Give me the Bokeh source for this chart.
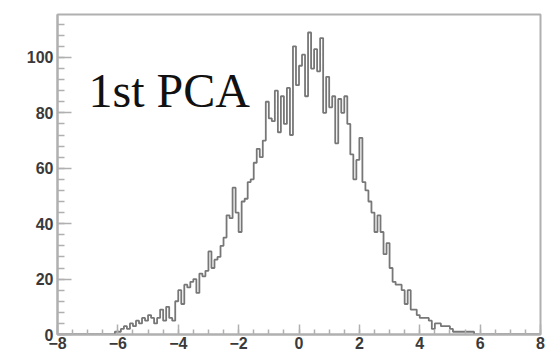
import numpy as np
from bokeh.plotting import figure
from bokeh.models import Range1d, SingleIntervalTicker, Label
from bokeh.embed import file_html
from bokeh.resources import INLINE

# Histogram: bin width 0.1, first non-empty bin starts at -6.1
bin_width = 0.1
first_edge = -6.1
counts = [
    1, 1, 2, 3, 2, 4, 3, 5, 4, 6,
    5, 7, 6, 4, 6, 9, 5, 10, 6, 5,
    12, 16, 11, 18, 17, 19, 20, 15, 22, 21,
    23, 30, 24, 27, 28, 32, 35, 43, 42, 53,
    44, 37, 48, 49, 55, 56, 62, 67, 64, 70,
    84, 78, 77, 88, 73, 86, 76, 89, 72, 104,
    90, 97, 101, 86, 109, 96, 103, 95, 107, 80,
    93, 82, 86, 69, 85, 80, 86, 76, 65, 56,
    63, 71, 55, 52, 48, 44, 37, 43, 37, 29,
    33, 24, 19, 18, 18, 16, 11, 16, 9, 9,
    7, 6, 6, 6, 5, 2, 4, 4, 3, 3,
    3, 2, 1, 1, 1, 1, 1, 1, 1,
]
title_text = "1st PCA"
x_lo, x_hi = -8, 8
y_lo, y_hi = 0, 115.5

edges = first_edge + bin_width * np.arange(len(counts) + 1)
xs = [x_lo] + list(edges) + [x_hi]
ys = [0] + list(counts) + [0, 0]

p = figure(width=545, height=356, output_backend="svg", toolbar_location=None,
           x_range=Range1d(x_lo, x_hi), y_range=Range1d(y_lo, y_hi),
           min_border_left=57, min_border_right=5, min_border_top=14,
           min_border_bottom=22)

p.step(x=xs, y=ys, mode="after", line_color="#777777", line_width=1.8)

p.xgrid.visible = False
p.ygrid.visible = False
p.outline_line_color = "#b0b0b0"
p.outline_line_width = 2

p.xaxis.ticker = SingleIntervalTicker(interval=2, num_minor_ticks=4)
p.yaxis.ticker = SingleIntervalTicker(interval=20, num_minor_ticks=5)

for ax in (p.xaxis[0], p.yaxis[0]):
    ax.axis_line_color = "#b0b0b0"
    ax.axis_line_width = 2
    ax.major_tick_line_color = "#b0b0b0"
    ax.minor_tick_line_color = "#b0b0b0"
    ax.major_tick_line_width = 1.5
    ax.minor_tick_line_width = 1.5
    ax.major_tick_out = 0
    ax.minor_tick_out = 0
    ax.major_label_text_font = "Liberation Sans"
    ax.major_label_text_font_style = "bold"
    ax.major_label_text_font_size = "16px"
    ax.major_label_text_color = "#3a3a3a"

p.yaxis.major_tick_in = 14
p.yaxis.minor_tick_in = 7
p.xaxis.major_tick_in = 10
p.xaxis.minor_tick_in = 5
p.yaxis.major_label_standoff = 4
p.xaxis.major_label_standoff = 2

lab = Label(x=-6.97, y=88, text=title_text, text_font="Liberation Serif",
            text_font_size="48px", text_color="#111111",
            text_baseline="alphabetic", text_align="left")
p.add_layout(lab)

open("out.html", "w").write(file_html(p, INLINE))
